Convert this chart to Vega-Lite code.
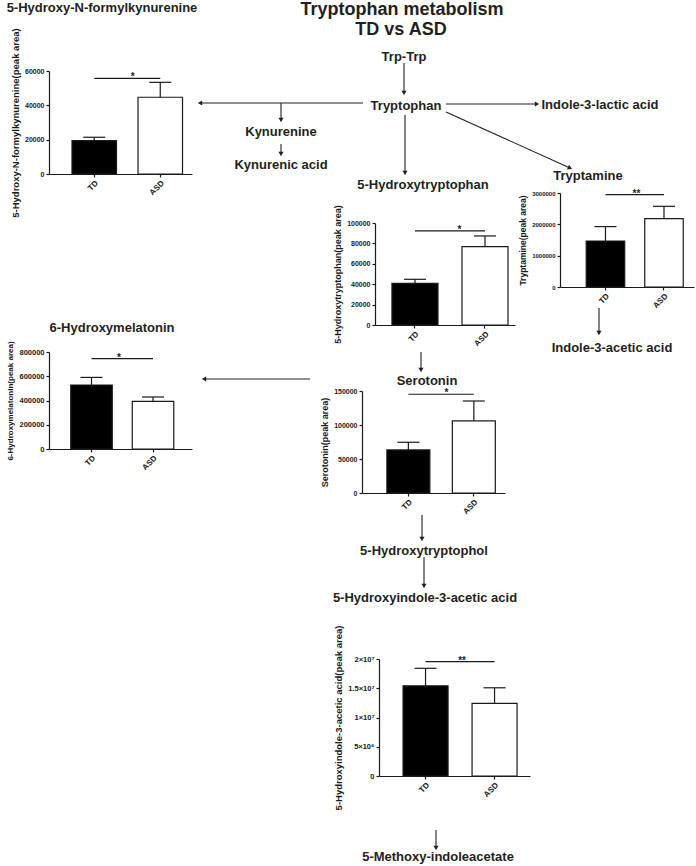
{
  "$schema": "https://vega.github.io/schema/vega-lite/v6.json",
  "width": 696,
  "height": 866,
  "autosize": "none",
  "padding": 0,
  "background": "white",
  "config": {
    "view": {"stroke": null},
    "font": "Liberation Sans",
    "axis": {
      "domainColor": "#1a1a1a", "domainWidth": 1.2,
      "tickColor": "#1a1a1a", "tickWidth": 1.2, "tickSize": 3,
      "labelFont": "Liberation Sans", "labelFontWeight": "bold", "labelColor": "#1a1a1a",
      "titleFont": "Liberation Sans", "titleFontWeight": "bold", "titleColor": "#1a1a1a",
      "grid": false, "labelPadding": 2, "titlePadding": 4
    }
  },
  "datasets": {
    "titles": [
      {"label": "Tryptophan metabolism", "x": 402, "y": 10},
      {"label": "TD vs ASD", "x": 401, "y": 30}
    ],
    "nodes": [
      {"label": "5-Hydroxy-N-formylkynurenine", "x": 102, "y": 8},
      {"label": "Trp-Trp", "x": 404, "y": 57},
      {"label": "Tryptophan", "x": 406, "y": 106},
      {"label": "Kynurenine", "x": 281, "y": 132},
      {"label": "Kynurenic acid", "x": 281, "y": 165},
      {"label": "Indole-3-lactic acid", "x": 600, "y": 105},
      {"label": "Tryptamine", "x": 588, "y": 176},
      {"label": "5-Hydroxytryptophan", "x": 423, "y": 185},
      {"label": "Indole-3-acetic acid", "x": 612, "y": 348},
      {"label": "6-Hydroxymelatonin", "x": 112, "y": 328},
      {"label": "Serotonin", "x": 427, "y": 381},
      {"label": "5-Hydroxytryptophol", "x": 424, "y": 551},
      {"label": "5-Hydroxyindole-3-acetic acid", "x": 425, "y": 598},
      {"label": "5-Methoxy-indoleacetate", "x": 438, "y": 857}
    ],
    "arrows": [
      {"x": 404, "y": 63, "x2": 404, "y2": 93, "dir": "down"},
      {"x": 363, "y": 103, "x2": 200, "y2": 103, "dir": "left"},
      {"x": 281, "y": 103, "x2": 281, "y2": 120, "dir": "down"},
      {"x": 281, "y": 144, "x2": 281, "y2": 154, "dir": "down"},
      {"x": 446, "y": 104, "x2": 537, "y2": 104, "dir": "right"},
      {"x": 446, "y": 112, "x2": 570, "y2": 168, "dir": "diag"},
      {"x": 405, "y": 115, "x2": 405, "y2": 173, "dir": "down"},
      {"x": 421, "y": 352, "x2": 421, "y2": 370, "dir": "down"},
      {"x": 310, "y": 379, "x2": 204, "y2": 379, "dir": "left"},
      {"x": 599, "y": 308, "x2": 599, "y2": 333, "dir": "down"},
      {"x": 422, "y": 515, "x2": 422, "y2": 539, "dir": "down"},
      {"x": 424, "y": 557, "x2": 424, "y2": 586, "dir": "down"},
      {"x": 436, "y": 830, "x2": 436, "y2": 848, "dir": "down"}
    ],
    "c1": [{"group": "TD", "mean": 19400, "upper": 21400}, {"group": "ASD", "mean": 44700, "upper": 53400}],
    "c1sig": [{"from": "TD", "to": "ASD", "level": 55700, "label": "*"}],
    "c2": [{"group": "TD", "mean": 40900, "upper": 44800}, {"group": "ASD", "mean": 76800, "upper": 87300}],
    "c2sig": [{"from": "TD", "to": "ASD", "level": 92200, "label": "*"}],
    "c3": [{"group": "TD", "mean": 1468000, "upper": 1928000}, {"group": "ASD", "mean": 2183000, "upper": 2576000}],
    "c3sig": [{"from": "TD", "to": "ASD", "level": 2949000, "label": "**"}],
    "c4": [{"group": "TD", "mean": 528000, "upper": 590500}, {"group": "ASD", "mean": 392600, "upper": 428900}],
    "c4sig": [{"from": "TD", "to": "ASD", "level": 744700, "label": "*"}],
    "c5": [{"group": "TD", "mean": 63300, "upper": 74600}, {"group": "ASD", "mean": 106000, "upper": 135300}],
    "c5sig": [{"from": "TD", "to": "ASD", "level": 145200, "label": "*"}],
    "c6": [{"group": "TD", "mean": 15420000, "upper": 18410000}, {"group": "ASD", "mean": 12410000, "upper": 15080000}],
    "c6sig": [{"from": "TD", "to": "ASD", "level": 19540000, "label": "**"}]
  },
  "resolve": {
    "scale": {"x": "independent", "y": "independent"},
    "axis": {"x": "independent", "y": "independent"}
  },
  "layer": [
    {
      "data": {"name": "titles"},
      "mark": {"type": "text", "fontWeight": "bold", "fontSize": 18, "color": "#231f20", "baseline": "middle", "align": "center"},
      "encoding": {
        "x": {"field": "x", "type": "quantitative", "scale": {"domain": [0, 696], "range": [0, 696], "zero": false, "nice": false}, "axis": null},
        "y": {"field": "y", "type": "quantitative", "scale": {"domain": [0, 866], "range": [0, 866], "zero": false, "nice": false}, "axis": null},
        "text": {"field": "label"}
      }
    },
    {
      "data": {"name": "nodes"},
      "mark": {"type": "text", "fontWeight": "bold", "fontSize": 13, "color": "#231f20", "baseline": "middle", "align": "center"},
      "encoding": {
        "x": {"field": "x", "type": "quantitative", "scale": {"domain": [0, 696], "range": [0, 696], "zero": false, "nice": false}, "axis": null},
        "y": {"field": "y", "type": "quantitative", "scale": {"domain": [0, 866], "range": [0, 866], "zero": false, "nice": false}, "axis": null},
        "text": {"field": "label"}
      }
    },
    {
      "data": {"name": "arrows"},
      "mark": {"type": "rule", "color": "#231f20", "strokeWidth": 1.1},
      "encoding": {
        "x": {"field": "x", "type": "quantitative", "scale": {"domain": [0, 696], "range": [0, 696], "zero": false, "nice": false}, "axis": null},
        "y": {"field": "y", "type": "quantitative", "scale": {"domain": [0, 866], "range": [0, 866], "zero": false, "nice": false}, "axis": null},
        "x2": {"field": "x2"}, "y2": {"field": "y2"}
      }
    },
    {
      "data": {"name": "arrows"},
      "transform": [{"filter": "datum.dir == 'down'"}],
      "mark": {"type": "point", "shape": "triangle-down", "filled": true, "size": 26, "color": "#231f20", "opacity": 1},
      "encoding": {
        "x": {"field": "x2", "type": "quantitative", "scale": {"domain": [0, 696], "range": [0, 696], "zero": false, "nice": false}, "axis": null},
        "y": {"field": "y2", "type": "quantitative", "scale": {"domain": [0, 866], "range": [0, 866], "zero": false, "nice": false}, "axis": null}
      }
    },
    {
      "data": {"name": "arrows"},
      "transform": [{"filter": "datum.dir == 'left'"}],
      "mark": {"type": "point", "shape": "triangle-left", "filled": true, "size": 26, "color": "#231f20", "opacity": 1},
      "encoding": {
        "x": {"field": "x2", "type": "quantitative", "scale": {"domain": [0, 696], "range": [0, 696], "zero": false, "nice": false}, "axis": null},
        "y": {"field": "y2", "type": "quantitative", "scale": {"domain": [0, 866], "range": [0, 866], "zero": false, "nice": false}, "axis": null}
      }
    },
    {
      "data": {"name": "arrows"},
      "transform": [{"filter": "datum.dir == 'right'"}],
      "mark": {"type": "point", "shape": "triangle-right", "filled": true, "size": 26, "color": "#231f20", "opacity": 1},
      "encoding": {
        "x": {"field": "x2", "type": "quantitative", "scale": {"domain": [0, 696], "range": [0, 696], "zero": false, "nice": false}, "axis": null},
        "y": {"field": "y2", "type": "quantitative", "scale": {"domain": [0, 866], "range": [0, 866], "zero": false, "nice": false}, "axis": null}
      }
    },
    {
      "data": {"name": "arrows"},
      "transform": [{"filter": "datum.dir == 'diag'"}],
      "mark": {"type": "point", "shape": "triangle-right", "angle": 24, "filled": true, "size": 26, "color": "#231f20", "opacity": 1},
      "encoding": {
        "x": {"field": "x2", "type": "quantitative", "scale": {"domain": [0, 696], "range": [0, 696], "zero": false, "nice": false}, "axis": null},
        "y": {"field": "y2", "type": "quantitative", "scale": {"domain": [0, 866], "range": [0, 866], "zero": false, "nice": false}, "axis": null}
      }
    },

    {
      "data": {"name": "c1"},
      "mark": {"type": "bar", "stroke": "#1a1a1a", "strokeWidth": 1.2},
      "encoding": {
        "x": {"field": "group", "type": "nominal", "scale": {"domain": ["TD", "ASD"], "range": [49, 192], "paddingInner": 0.326, "paddingOuter": 0.246, "align": 0.708},
              "axis": {"title": null, "orient": "bottom", "offset": -692, "labelAngle": -45, "labelFontSize": 8}},
        "y": {"field": "mean", "type": "quantitative", "scale": {"domain": [0, 60000], "range": [174, 71], "nice": false},
              "axis": {"title": "5-Hydroxy-N-formylkynurenine(peak area)", "orient": "left", "offset": -49, "values": [0, 20000, 40000, 60000], "format": "d", "labelFontSize": 7, "titleFontSize": 9.5}},
        "fill": {"field": "group", "type": "nominal", "scale": {"domain": ["TD", "ASD"], "range": ["#000000", "#ffffff"]}, "legend": null}
      }
    },
    {
      "data": {"name": "c1"},
      "mark": {"type": "rule", "color": "#1a1a1a", "strokeWidth": 1.2},
      "encoding": {
        "x": {"field": "group", "type": "nominal", "scale": {"domain": ["TD", "ASD"], "range": [49, 192], "paddingInner": 0.326, "paddingOuter": 0.246, "align": 0.708}, "axis": null},
        "y": {"field": "mean", "type": "quantitative", "scale": {"domain": [0, 60000], "range": [174, 71], "nice": false}, "axis": null},
        "y2": {"field": "upper"}
      }
    },
    {
      "data": {"name": "c1"},
      "mark": {"type": "tick", "size": 22, "thickness": 1.2, "color": "#1a1a1a", "opacity": 1},
      "encoding": {
        "x": {"field": "group", "type": "nominal", "scale": {"domain": ["TD", "ASD"], "range": [49, 192], "paddingInner": 0.326, "paddingOuter": 0.246, "align": 0.708}, "axis": null},
        "y": {"field": "upper", "type": "quantitative", "scale": {"domain": [0, 60000], "range": [174, 71], "nice": false}, "axis": null}
      }
    },
    {
      "data": {"name": "c1sig"},
      "mark": {"type": "rule", "color": "#1a1a1a", "strokeWidth": 1.2},
      "encoding": {
        "x": {"field": "from", "type": "nominal", "bandPosition": 0.5, "scale": {"domain": ["TD", "ASD"], "range": [49, 192], "paddingInner": 0.326, "paddingOuter": 0.246, "align": 0.708}, "axis": null},
        "x2": {"field": "to", "bandPosition": 0.5},
        "y": {"field": "level", "type": "quantitative", "scale": {"domain": [0, 60000], "range": [174, 71], "nice": false}, "axis": null}
      }
    },
    {
      "data": {"name": "c1sig"},
      "mark": {"type": "text", "fontWeight": "bold", "fontSize": 10, "color": "#222", "baseline": "alphabetic", "align": "center", "dy": 2, "dx": 33},
      "encoding": {
        "x": {"field": "from", "type": "nominal", "bandPosition": 0.5, "scale": {"domain": ["TD", "ASD"], "range": [49, 192], "paddingInner": 0.326, "paddingOuter": 0.246, "align": 0.708}, "axis": null},
        "y": {"field": "level", "type": "quantitative", "scale": {"domain": [0, 60000], "range": [174, 71], "nice": false}, "axis": null},
        "text": {"field": "label"}
      }
    },

    {
      "data": {"name": "c2"},
      "mark": {"type": "bar", "stroke": "#1a1a1a", "strokeWidth": 1.2},
      "encoding": {
        "x": {"field": "group", "type": "nominal", "scale": {"domain": ["TD", "ASD"], "range": [375, 515], "paddingInner": 0.343, "paddingOuter": 0.171, "align": 0.708},
              "axis": {"title": null, "orient": "bottom", "offset": -541, "labelAngle": -45, "labelFontSize": 8}},
        "y": {"field": "mean", "type": "quantitative", "scale": {"domain": [0, 100000], "range": [325, 223], "nice": false},
              "axis": {"title": "5-Hydroxytryptophan(peak area)", "orient": "left", "offset": -375, "values": [0, 20000, 40000, 60000, 80000, 100000], "format": "d", "labelFontSize": 7, "titleFontSize": 9}},
        "fill": {"field": "group", "type": "nominal", "scale": {"domain": ["TD", "ASD"], "range": ["#000000", "#ffffff"]}, "legend": null}
      }
    },
    {
      "data": {"name": "c2"},
      "mark": {"type": "rule", "color": "#1a1a1a", "strokeWidth": 1.2},
      "encoding": {
        "x": {"field": "group", "type": "nominal", "scale": {"domain": ["TD", "ASD"], "range": [375, 515], "paddingInner": 0.343, "paddingOuter": 0.171, "align": 0.708}, "axis": null},
        "y": {"field": "mean", "type": "quantitative", "scale": {"domain": [0, 100000], "range": [325, 223], "nice": false}, "axis": null},
        "y2": {"field": "upper"}
      }
    },
    {
      "data": {"name": "c2"},
      "mark": {"type": "tick", "size": 22, "thickness": 1.2, "color": "#1a1a1a", "opacity": 1},
      "encoding": {
        "x": {"field": "group", "type": "nominal", "scale": {"domain": ["TD", "ASD"], "range": [375, 515], "paddingInner": 0.343, "paddingOuter": 0.171, "align": 0.708}, "axis": null},
        "y": {"field": "upper", "type": "quantitative", "scale": {"domain": [0, 100000], "range": [325, 223], "nice": false}, "axis": null}
      }
    },
    {
      "data": {"name": "c2sig"},
      "mark": {"type": "rule", "color": "#1a1a1a", "strokeWidth": 1.2},
      "encoding": {
        "x": {"field": "from", "type": "nominal", "bandPosition": 0.5, "scale": {"domain": ["TD", "ASD"], "range": [375, 515], "paddingInner": 0.343, "paddingOuter": 0.171, "align": 0.708}, "axis": null},
        "x2": {"field": "to", "bandPosition": 0.5},
        "y": {"field": "level", "type": "quantitative", "scale": {"domain": [0, 100000], "range": [325, 223], "nice": false}, "axis": null}
      }
    },
    {
      "data": {"name": "c2sig"},
      "mark": {"type": "text", "fontWeight": "bold", "fontSize": 10, "color": "#222", "baseline": "alphabetic", "align": "center", "dy": 2, "dx": 35},
      "encoding": {
        "x": {"field": "from", "type": "nominal", "bandPosition": 0.5, "scale": {"domain": ["TD", "ASD"], "range": [375, 515], "paddingInner": 0.343, "paddingOuter": 0.171, "align": 0.708}, "axis": null},
        "y": {"field": "level", "type": "quantitative", "scale": {"domain": [0, 100000], "range": [325, 223], "nice": false}, "axis": null},
        "text": {"field": "label"}
      }
    },

    {
      "data": {"name": "c3"},
      "mark": {"type": "bar", "stroke": "#1a1a1a", "strokeWidth": 1.2},
      "encoding": {
        "x": {"field": "group", "type": "nominal", "scale": {"domain": ["TD", "ASD"], "range": [560, 694], "paddingInner": 0.342, "paddingOuter": 0.316, "align": 0.709},
              "axis": {"title": null, "orient": "bottom", "offset": -579, "labelAngle": -45, "labelFontSize": 8}},
        "y": {"field": "mean", "type": "quantitative", "scale": {"domain": [0, 3000000], "range": [287, 193], "nice": false},
              "axis": {"title": "Tryptamine(peak area)", "orient": "left", "offset": -560, "values": [0, 1000000, 2000000, 3000000], "format": "d", "labelFontSize": 6, "titleFontSize": 8.5}},
        "fill": {"field": "group", "type": "nominal", "scale": {"domain": ["TD", "ASD"], "range": ["#000000", "#ffffff"]}, "legend": null}
      }
    },
    {
      "data": {"name": "c3"},
      "mark": {"type": "rule", "color": "#1a1a1a", "strokeWidth": 1.2},
      "encoding": {
        "x": {"field": "group", "type": "nominal", "scale": {"domain": ["TD", "ASD"], "range": [560, 694], "paddingInner": 0.342, "paddingOuter": 0.316, "align": 0.709}, "axis": null},
        "y": {"field": "mean", "type": "quantitative", "scale": {"domain": [0, 3000000], "range": [287, 193], "nice": false}, "axis": null},
        "y2": {"field": "upper"}
      }
    },
    {
      "data": {"name": "c3"},
      "mark": {"type": "tick", "size": 22, "thickness": 1.2, "color": "#1a1a1a", "opacity": 1},
      "encoding": {
        "x": {"field": "group", "type": "nominal", "scale": {"domain": ["TD", "ASD"], "range": [560, 694], "paddingInner": 0.342, "paddingOuter": 0.316, "align": 0.709}, "axis": null},
        "y": {"field": "upper", "type": "quantitative", "scale": {"domain": [0, 3000000], "range": [287, 193], "nice": false}, "axis": null}
      }
    },
    {
      "data": {"name": "c3sig"},
      "mark": {"type": "rule", "color": "#1a1a1a", "strokeWidth": 1.2},
      "encoding": {
        "x": {"field": "from", "type": "nominal", "bandPosition": 0.5, "scale": {"domain": ["TD", "ASD"], "range": [560, 694], "paddingInner": 0.342, "paddingOuter": 0.316, "align": 0.709}, "axis": null},
        "x2": {"field": "to", "bandPosition": 0.5},
        "y": {"field": "level", "type": "quantitative", "scale": {"domain": [0, 3000000], "range": [287, 193], "nice": false}, "axis": null}
      }
    },
    {
      "data": {"name": "c3sig"},
      "mark": {"type": "text", "fontWeight": "bold", "fontSize": 10, "color": "#222", "baseline": "alphabetic", "align": "center", "dy": 2, "dx": 29},
      "encoding": {
        "x": {"field": "from", "type": "nominal", "bandPosition": 0.5, "scale": {"domain": ["TD", "ASD"], "range": [560, 694], "paddingInner": 0.342, "paddingOuter": 0.316, "align": 0.709}, "axis": null},
        "y": {"field": "level", "type": "quantitative", "scale": {"domain": [0, 3000000], "range": [287, 193], "nice": false}, "axis": null},
        "text": {"field": "label"}
      }
    },

    {
      "data": {"name": "c4"},
      "mark": {"type": "bar", "stroke": "#1a1a1a", "strokeWidth": 1.2},
      "encoding": {
        "x": {"field": "group", "type": "nominal", "scale": {"domain": ["TD", "ASD"], "range": [49, 192], "paddingInner": 0.325, "paddingOuter": 0.325, "align": 0.544},
              "axis": {"title": null, "orient": "bottom", "offset": -417, "labelAngle": -45, "labelFontSize": 8}},
        "y": {"field": "mean", "type": "quantitative", "scale": {"domain": [0, 800000], "range": [449, 352], "nice": false},
              "axis": {"title": "6-Hydroxymelatonin(peak area)", "orient": "left", "offset": -49, "values": [0, 200000, 400000, 600000, 800000], "format": "d", "labelFontSize": 7.5, "titleFontSize": 8}},
        "fill": {"field": "group", "type": "nominal", "scale": {"domain": ["TD", "ASD"], "range": ["#000000", "#ffffff"]}, "legend": null}
      }
    },
    {
      "data": {"name": "c4"},
      "mark": {"type": "rule", "color": "#1a1a1a", "strokeWidth": 1.2},
      "encoding": {
        "x": {"field": "group", "type": "nominal", "scale": {"domain": ["TD", "ASD"], "range": [49, 192], "paddingInner": 0.325, "paddingOuter": 0.325, "align": 0.544}, "axis": null},
        "y": {"field": "mean", "type": "quantitative", "scale": {"domain": [0, 800000], "range": [449, 352], "nice": false}, "axis": null},
        "y2": {"field": "upper"}
      }
    },
    {
      "data": {"name": "c4"},
      "mark": {"type": "tick", "size": 22, "thickness": 1.2, "color": "#1a1a1a", "opacity": 1},
      "encoding": {
        "x": {"field": "group", "type": "nominal", "scale": {"domain": ["TD", "ASD"], "range": [49, 192], "paddingInner": 0.325, "paddingOuter": 0.325, "align": 0.544}, "axis": null},
        "y": {"field": "upper", "type": "quantitative", "scale": {"domain": [0, 800000], "range": [449, 352], "nice": false}, "axis": null}
      }
    },
    {
      "data": {"name": "c4sig"},
      "mark": {"type": "rule", "color": "#1a1a1a", "strokeWidth": 1.2},
      "encoding": {
        "x": {"field": "from", "type": "nominal", "bandPosition": 0.5, "scale": {"domain": ["TD", "ASD"], "range": [49, 192], "paddingInner": 0.325, "paddingOuter": 0.325, "align": 0.544}, "axis": null},
        "x2": {"field": "to", "bandPosition": 0.5},
        "y": {"field": "level", "type": "quantitative", "scale": {"domain": [0, 800000], "range": [449, 352], "nice": false}, "axis": null}
      }
    },
    {
      "data": {"name": "c4sig"},
      "mark": {"type": "text", "fontWeight": "bold", "fontSize": 10, "color": "#222", "baseline": "alphabetic", "align": "center", "dy": 2, "dx": 31},
      "encoding": {
        "x": {"field": "from", "type": "nominal", "bandPosition": 0.5, "scale": {"domain": ["TD", "ASD"], "range": [49, 192], "paddingInner": 0.325, "paddingOuter": 0.325, "align": 0.544}, "axis": null},
        "y": {"field": "level", "type": "quantitative", "scale": {"domain": [0, 800000], "range": [449, 352], "nice": false}, "axis": null},
        "text": {"field": "label"}
      }
    },

    {
      "data": {"name": "c5"},
      "mark": {"type": "bar", "stroke": "#1a1a1a", "strokeWidth": 1.2},
      "encoding": {
        "x": {"field": "group", "type": "nominal", "scale": {"domain": ["TD", "ASD"], "range": [362, 505], "paddingInner": 0.344, "paddingOuter": 0.264, "align": 0.72},
              "axis": {"title": null, "orient": "bottom", "offset": -373, "labelAngle": -45, "labelFontSize": 8}},
        "y": {"field": "mean", "type": "quantitative", "scale": {"domain": [0, 150000], "range": [493, 391], "nice": false},
              "axis": {"title": "Serotonin(peak area)", "orient": "left", "offset": -362, "values": [0, 50000, 100000, 150000], "format": "d", "labelFontSize": 7, "titleFontSize": 9}},
        "fill": {"field": "group", "type": "nominal", "scale": {"domain": ["TD", "ASD"], "range": ["#000000", "#ffffff"]}, "legend": null}
      }
    },
    {
      "data": {"name": "c5"},
      "mark": {"type": "rule", "color": "#1a1a1a", "strokeWidth": 1.2},
      "encoding": {
        "x": {"field": "group", "type": "nominal", "scale": {"domain": ["TD", "ASD"], "range": [362, 505], "paddingInner": 0.344, "paddingOuter": 0.264, "align": 0.72}, "axis": null},
        "y": {"field": "mean", "type": "quantitative", "scale": {"domain": [0, 150000], "range": [493, 391], "nice": false}, "axis": null},
        "y2": {"field": "upper"}
      }
    },
    {
      "data": {"name": "c5"},
      "mark": {"type": "tick", "size": 22, "thickness": 1.2, "color": "#1a1a1a", "opacity": 1},
      "encoding": {
        "x": {"field": "group", "type": "nominal", "scale": {"domain": ["TD", "ASD"], "range": [362, 505], "paddingInner": 0.344, "paddingOuter": 0.264, "align": 0.72}, "axis": null},
        "y": {"field": "upper", "type": "quantitative", "scale": {"domain": [0, 150000], "range": [493, 391], "nice": false}, "axis": null}
      }
    },
    {
      "data": {"name": "c5sig"},
      "mark": {"type": "rule", "color": "#1a1a1a", "strokeWidth": 1.2},
      "encoding": {
        "x": {"field": "from", "type": "nominal", "bandPosition": 0.5, "scale": {"domain": ["TD", "ASD"], "range": [362, 505], "paddingInner": 0.344, "paddingOuter": 0.264, "align": 0.72}, "axis": null},
        "x2": {"field": "to", "bandPosition": 0.5},
        "y": {"field": "level", "type": "quantitative", "scale": {"domain": [0, 150000], "range": [493, 391], "nice": false}, "axis": null}
      }
    },
    {
      "data": {"name": "c5sig"},
      "mark": {"type": "text", "fontWeight": "bold", "fontSize": 10, "color": "#222", "baseline": "alphabetic", "align": "center", "dy": 2, "dx": 33},
      "encoding": {
        "x": {"field": "from", "type": "nominal", "bandPosition": 0.5, "scale": {"domain": ["TD", "ASD"], "range": [362, 505], "paddingInner": 0.344, "paddingOuter": 0.264, "align": 0.72}, "axis": null},
        "y": {"field": "level", "type": "quantitative", "scale": {"domain": [0, 150000], "range": [493, 391], "nice": false}, "axis": null},
        "text": {"field": "label"}
      }
    },

    {
      "data": {"name": "c6"},
      "mark": {"type": "bar", "stroke": "#1a1a1a", "strokeWidth": 1.2},
      "encoding": {
        "x": {"field": "group", "type": "nominal", "scale": {"domain": ["TD", "ASD"], "range": [379, 530], "paddingInner": 0.348, "paddingOuter": 0.268, "align": 0.65},
              "axis": {"title": null, "orient": "bottom", "offset": -90, "labelAngle": -45, "labelFontSize": 8}},
        "y": {"field": "mean", "type": "quantitative", "scale": {"domain": [0, 20000000], "range": [776, 659], "nice": false},
              "axis": {"title": "5-Hydroxyindole-3-acetic acid(peak area)", "orient": "left", "offset": -379, "values": [0, 5000000, 10000000, 15000000, 20000000],
                       "labelExpr": "datum.value == 0 ? '0' : datum.value == 5000000 ? '5×10⁶' : datum.value == 10000000 ? '1×10⁷' : datum.value == 15000000 ? '1.5×10⁷' : '2×10⁷'",
                       "labelFontSize": 7.5, "titleFontSize": 9.5}},
        "fill": {"field": "group", "type": "nominal", "scale": {"domain": ["TD", "ASD"], "range": ["#000000", "#ffffff"]}, "legend": null}
      }
    },
    {
      "data": {"name": "c6"},
      "mark": {"type": "rule", "color": "#1a1a1a", "strokeWidth": 1.2},
      "encoding": {
        "x": {"field": "group", "type": "nominal", "scale": {"domain": ["TD", "ASD"], "range": [379, 530], "paddingInner": 0.348, "paddingOuter": 0.268, "align": 0.65}, "axis": null},
        "y": {"field": "mean", "type": "quantitative", "scale": {"domain": [0, 20000000], "range": [776, 659], "nice": false}, "axis": null},
        "y2": {"field": "upper"}
      }
    },
    {
      "data": {"name": "c6"},
      "mark": {"type": "tick", "size": 22, "thickness": 1.2, "color": "#1a1a1a", "opacity": 1},
      "encoding": {
        "x": {"field": "group", "type": "nominal", "scale": {"domain": ["TD", "ASD"], "range": [379, 530], "paddingInner": 0.348, "paddingOuter": 0.268, "align": 0.65}, "axis": null},
        "y": {"field": "upper", "type": "quantitative", "scale": {"domain": [0, 20000000], "range": [776, 659], "nice": false}, "axis": null}
      }
    },
    {
      "data": {"name": "c6sig"},
      "mark": {"type": "rule", "color": "#1a1a1a", "strokeWidth": 1.2},
      "encoding": {
        "x": {"field": "from", "type": "nominal", "bandPosition": 0.5, "scale": {"domain": ["TD", "ASD"], "range": [379, 530], "paddingInner": 0.348, "paddingOuter": 0.268, "align": 0.65}, "axis": null},
        "x2": {"field": "to", "bandPosition": 0.5},
        "y": {"field": "level", "type": "quantitative", "scale": {"domain": [0, 20000000], "range": [776, 659], "nice": false}, "axis": null}
      }
    },
    {
      "data": {"name": "c6sig"},
      "mark": {"type": "text", "fontWeight": "bold", "fontSize": 10, "color": "#222", "baseline": "alphabetic", "align": "center", "dy": 2, "dx": 34},
      "encoding": {
        "x": {"field": "from", "type": "nominal", "bandPosition": 0.5, "scale": {"domain": ["TD", "ASD"], "range": [379, 530], "paddingInner": 0.348, "paddingOuter": 0.268, "align": 0.65}, "axis": null},
        "y": {"field": "level", "type": "quantitative", "scale": {"domain": [0, 20000000], "range": [776, 659], "nice": false}, "axis": null},
        "text": {"field": "label"}
      }
    }
  ]
}
